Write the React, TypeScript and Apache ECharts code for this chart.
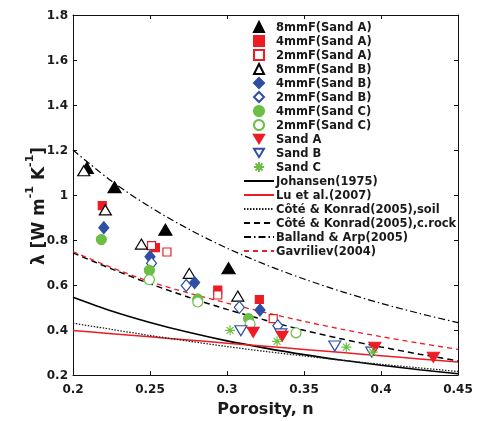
import React, { useEffect, useRef } from 'react';
import * as echarts from 'echarts';

// Porosity grid for model curves
const porosityGrid = [0.2, 0.225, 0.25, 0.275, 0.3, 0.325, 0.35, 0.375, 0.4, 0.425, 0.45];
// Model curves (thermal conductivity, W m-1 K-1)
const johansen = [0.546, 0.485, 0.434, 0.39, 0.352, 0.32, 0.291, 0.266, 0.244, 0.224, 0.206];
const luEtAl = [0.398, 0.384, 0.37, 0.356, 0.342, 0.328, 0.314, 0.3, 0.286, 0.272, 0.258];
const coteSoil = [0.431, 0.403, 0.376, 0.351, 0.327, 0.305, 0.285, 0.266, 0.248, 0.232, 0.216];
const coteRock = [0.743, 0.672, 0.606, 0.546, 0.492, 0.444, 0.399, 0.36, 0.325, 0.293, 0.263];
const ballandArp = [1.2, 1.062, 0.947, 0.849, 0.764, 0.691, 0.627, 0.57, 0.519, 0.474, 0.433];
const gavriliev = [0.748, 0.678, 0.615, 0.565, 0.52, 0.478, 0.439, 0.403, 0.371, 0.342, 0.314];

// Measured points [porosity, lambda]
const f8SandA = [[0.209, 1.12], [0.227, 1.035], [0.26, 0.846], [0.301, 0.675]];
const f4SandA = [[0.219, 0.953], [0.2535, 0.766], [0.294, 0.578], [0.321, 0.536]];
const f2SandA = [[0.251, 0.775], [0.261, 0.747], [0.294, 0.556], [0.33, 0.451]];
const f8SandB = [[0.207, 1.108], [0.221, 0.934], [0.2444, 0.782], [0.2755, 0.652], [0.307, 0.551]];
const f4SandB = [[0.22, 0.855], [0.25, 0.726], [0.279, 0.611], [0.3214, 0.489]];
const f2SandB = [[0.251, 0.697], [0.2735, 0.598], [0.308, 0.501], [0.333, 0.419]];
const f4SandC = [[0.2184, 0.802], [0.2496, 0.665], [0.281, 0.538], [0.314, 0.451]];
const f2SandC = [[0.2496, 0.624], [0.281, 0.525], [0.315, 0.427], [0.3448, 0.388]];
const sandA = [[0.317, 0.39], [0.3358, 0.372], [0.396, 0.324], [0.434, 0.279]];
const sandB = [[0.309, 0.397], [0.335, 0.383], [0.37, 0.329], [0.394, 0.302]];
const sandC = [[0.302, 0.399], [0.3325, 0.35], [0.3775, 0.324], [0.3946, 0.302]];

const xTicks = { min: 0.2, max: 0.45, interval: 0.05 };
const yTicks = { min: 0.2, max: 1.8, interval: 0.2 };

const RED = '#ED1C24';
const BLUE = '#2E4FA3';
const GREEN = '#6DBE45';
const FONT = 'DejaVu Sans';
const ASTERISK = 'path://M0,5L10,5M5,0L5,10M1.5,1.5L8.5,8.5M8.5,1.5L1.5,8.5';
const DOWN_TRIANGLE = 'path://M0,0L12,0L6,10Z';

const scatterNames = ['8mmF(Sand A)', '4mmF(Sand A)', '2mmF(Sand A)', '8mmF(Sand B)', '4mmF(Sand B)', '2mmF(Sand B)', '4mmF(Sand C)', '2mmF(Sand C)', 'Sand A', 'Sand B', 'Sand C'];
const lineNames = ['Johansen(1975)', 'Lu et al.(2007)', 'Côté & Konrad(2005),soil', 'Côté & Konrad(2005),c.rock', 'Balland & Arp(2005)', 'Gavriliev(2004)'];

function lineData(ys: number[]) {
  return porosityGrid.map((x, i) => [x, ys[i]]);
}

export default function App() {
  const ref = useRef<HTMLDivElement>(null);
  useEffect(() => {
    if (!ref.current) return;
    const chart = echarts.init(ref.current, undefined, { renderer: 'svg' });
    const lineSeries = (name: string, ys: number[], color: string, type: any, width: number) => ({
      name, type: 'line', data: lineData(ys), symbol: 'none', smooth: 0.3, z: 2,
      lineStyle: { color, type, width }, itemStyle: { color },
    });
    const sc = (name: string, data: number[][], symbol: string, size: any, fill: string, stroke: string, bw = 1.2) => ({
      name, type: 'scatter', data, symbol, symbolSize: size, z: 3,
      itemStyle: { color: fill, borderColor: stroke, borderWidth: bw, opacity: 1 },
    });
    const axisCommon = {
      type: 'value', axisLine: { show: true, onZero: false, lineStyle: { color: '#111', width: 1 } },
      axisTick: { show: true, inside: true, length: 4, lineStyle: { color: '#111' } },
      splitLine: { show: false },
    };
    const labelStyle = { color: '#1a1a1a', fontFamily: FONT, fontWeight: 'bold', fontSize: 12 };
    chart.setOption({
      animation: false,
      grid: { left: 73, right: 19, top: 15, bottom: 41 },
      xAxis: [
        { ...axisCommon, position: 'bottom', ...xTicks, axisLabel: { ...labelStyle, margin: 8 },
          name: 'Porosity, n', nameLocation: 'middle', nameGap: 23,
          nameTextStyle: { color: '#1a1a1a', fontFamily: FONT, fontWeight: 'bold', fontSize: 16 } },
        { ...axisCommon, position: 'top', ...xTicks, axisLabel: { show: false } },
      ],
      yAxis: [
        { ...axisCommon, position: 'left', ...yTicks, axisLabel: { ...labelStyle, margin: 5 } },
        { ...axisCommon, position: 'right', ...yTicks, axisLabel: { show: false } },
      ],
      legend: [
        {
          data: scatterNames, orient: 'vertical', left: 253, top: 20, padding: 0, itemWidth: 10, itemHeight: 10, itemGap: 0,
          selectedMode: false,
          textStyle: { color: '#1a1a1a', fontFamily: FONT, fontWeight: 'bold', fontSize: 11.5, lineHeight: 14, padding: [0, 0, 0, 7] },
        },
        {
          data: lineNames, orient: 'vertical', left: 243, top: 174, padding: 0, itemWidth: 30, itemHeight: 10, itemGap: 0,
          selectedMode: false,
          itemStyle: { color: 'rgba(0,0,0,0)', borderColor: 'rgba(0,0,0,0)', borderWidth: 0, opacity: 0 },
          textStyle: { color: '#1a1a1a', fontFamily: FONT, fontWeight: 'bold', fontSize: 11.5, lineHeight: 14, padding: [0, 0, 0, -3] },
        },
      ],
      graphic: [
        {
          type: 'text', x: 35, y: 206, rotation: Math.PI / 2,
          style: {
            text: '{a|λ [W m}{s|-1}{a| K}{s|-1}{a|]}',
            align: 'center', verticalAlign: 'middle',
            rich: {
              a: { fontFamily: FONT, fontWeight: 'bold', fontSize: 17, lineHeight: 22, fill: '#1a1a1a', verticalAlign: 'bottom' },
              s: { fontFamily: FONT, fontWeight: 'bold', fontSize: 11, lineHeight: 12, fill: '#1a1a1a', verticalAlign: 'top' },
            },
          },
        },
      ],
      series: [
        lineSeries('Johansen(1975)', johansen, '#000', 'solid', 1.6),
        lineSeries('Lu et al.(2007)', luEtAl, RED, 'solid', 1.5),
        lineSeries('Côté & Konrad(2005),soil', coteSoil, '#222', [1.5, 1.5], 1.3),
        lineSeries('Côté & Konrad(2005),c.rock', coteRock, '#000', [6, 4], 1.5),
        lineSeries('Balland & Arp(2005)', ballandArp, '#000', [7, 3, 1.5, 3], 1.2),
        lineSeries('Gavriliev(2004)', gavriliev, RED, [5, 4], 1.3),
        sc('8mmF(Sand A)', f8SandA, 'triangle', [13, 11], '#000', '#000'),
        sc('4mmF(Sand A)', f4SandA, 'rect', 8, RED, RED),
        sc('2mmF(Sand A)', f2SandA, 'rect', 8, '#fff', RED),
        sc('8mmF(Sand B)', f8SandB, 'triangle', [12, 10], '#fff', '#000'),
        sc('4mmF(Sand B)', f4SandB, 'diamond', [10, 12], BLUE, BLUE),
        sc('2mmF(Sand B)', f2SandB, 'diamond', [10, 12], '#fff', BLUE),
        sc('4mmF(Sand C)', f4SandC, 'circle', 10, GREEN, GREEN),
        sc('2mmF(Sand C)', f2SandC, 'circle', 10, '#fff', GREEN),
        sc('Sand B', sandB, DOWN_TRIANGLE, [12, 10], '#fff', BLUE),
        sc('Sand A', sandA, DOWN_TRIANGLE, [12, 10], RED, RED),
        sc('Sand C', sandC, ASTERISK, 10, GREEN, GREEN, 1.2),
      ],
    });
    return () => chart.dispose();
  }, []);
  return <div ref={ref} style={{ position: 'fixed', left: 0, top: 0, width: 477, height: 421 }} />;
}
